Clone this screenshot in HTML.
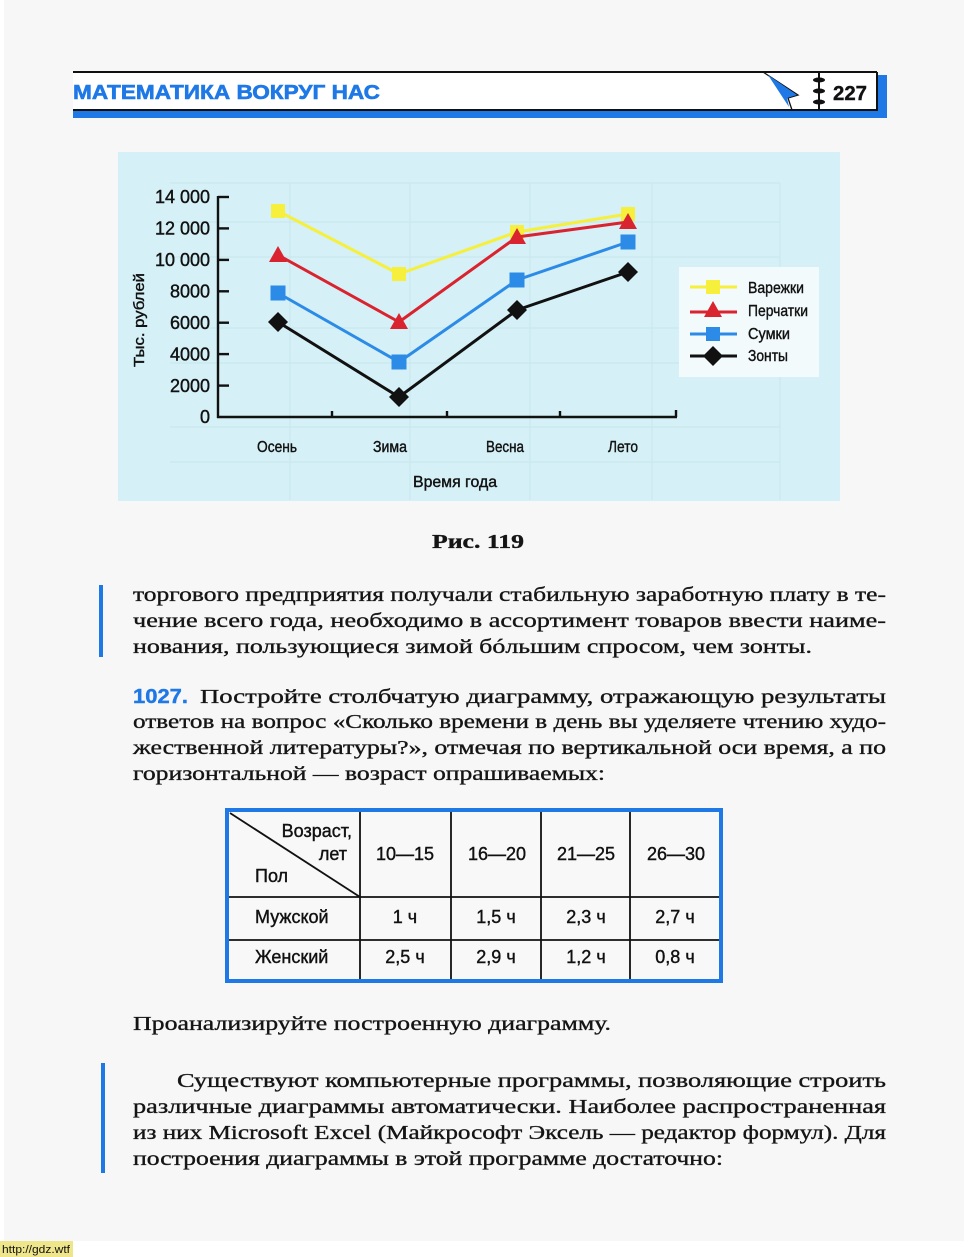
<!DOCTYPE html>
<html><head><meta charset="utf-8">
<style>
html,body{margin:0;padding:0;background:#fff;}
svg{display:block;}
.ser{font-family:"Liberation Serif","Noto Serif CJK SC",serif;fill:#151515;stroke:#151515;stroke-width:0.35px;}
.san{font-family:"Liberation Sans","Noto Sans CJK SC",sans-serif;fill:#111;}
.sanb{stroke:#111;stroke-width:0.4px;}
</style></head>
<body>
<svg width="969" height="1257" viewBox="0 0 969 1257" xmlns="http://www.w3.org/2000/svg">
<!-- page -->
<rect x="0" y="0" width="969" height="1257" fill="#ffffff"/>
<rect x="4" y="0" width="960" height="1241" fill="#f7f7f7"/>

<!-- header -->
<rect x="877" y="75" width="10" height="43" fill="#1e78e6"/>
<rect x="73" y="111" width="814" height="7" fill="#1e78e6"/>
<rect x="73" y="72" width="804" height="38" fill="#ffffff"/>
<line x1="73" y1="72" x2="877" y2="72" stroke="#111" stroke-width="2"/>
<line x1="73" y1="110" x2="877" y2="110" stroke="#111" stroke-width="2"/>
<line x1="877" y1="72" x2="877" y2="111" stroke="#111" stroke-width="2"/>
<line x1="819" y1="72" x2="819" y2="110" stroke="#111" stroke-width="2"/>
<g fill="#111">
<ellipse cx="819" cy="80" rx="6" ry="2.5"/>
<ellipse cx="819" cy="91" rx="6" ry="2.5"/>
<ellipse cx="819" cy="102" rx="6" ry="2.5"/>
</g>
<path d="M763,72 L798,95 L788,98 L792,110" fill="none" stroke="#111" stroke-width="1.3"/>
<path d="M768,75 L797,95 L787,98 L789,107 Z" fill="#1e78e6"/>
<text x="73" y="99" class="san" style="font-size:20px;font-weight:bold;fill:#1e78e6;stroke:#1e78e6;stroke-width:0.6px" textLength="307" lengthAdjust="spacingAndGlyphs">МАТЕМАТИКА  ВОКРУГ  НАС</text>
<text x="833" y="100" class="san sanb" style="font-size:20px;font-weight:bold" textLength="34" lengthAdjust="spacingAndGlyphs">227</text>

<!-- chart background -->
<rect x="118" y="152" width="722" height="349" fill="#d5f0f6"/>
<g stroke="#c6e3eb" stroke-width="1.2" fill="none" opacity="0.6">
<line x1="170" y1="183" x2="780" y2="183"/>
<line x1="170" y1="222" x2="780" y2="222"/>
<line x1="170" y1="257" x2="780" y2="257"/>
<line x1="170" y1="328" x2="780" y2="328"/>
<line x1="170" y1="363" x2="780" y2="363"/>
<line x1="170" y1="427" x2="780" y2="427"/>
<line x1="170" y1="462" x2="780" y2="462"/>
<line x1="290" y1="183" x2="290" y2="500"/>
<line x1="410" y1="183" x2="410" y2="500"/>
<line x1="530" y1="183" x2="530" y2="500"/>
<line x1="652" y1="183" x2="652" y2="500"/>
<line x1="780" y1="183" x2="780" y2="500"/>
</g>

<!-- axes -->
<g stroke="#111" stroke-width="2.4" fill="none">
<line x1="218" y1="196" x2="218" y2="418"/>
<line x1="217" y1="417" x2="677" y2="417"/>
<line x1="218" y1="197" x2="229" y2="197"/>
<line x1="218" y1="228.4" x2="229" y2="228.4"/>
<line x1="218" y1="259.9" x2="229" y2="259.9"/>
<line x1="218" y1="291.3" x2="229" y2="291.3"/>
<line x1="218" y1="322.7" x2="229" y2="322.7"/>
<line x1="218" y1="354.1" x2="229" y2="354.1"/>
<line x1="218" y1="385.6" x2="229" y2="385.6"/>
<line x1="332" y1="417" x2="332" y2="411"/>
<line x1="447" y1="417" x2="447" y2="411"/>
<line x1="560" y1="417" x2="560" y2="411"/>
<line x1="676" y1="417" x2="676" y2="410"/>
</g>
<g class="san sanb" style="font-size:18px" text-anchor="end">
<text x="210" y="203">14 000</text>
<text x="210" y="234.5">12 000</text>
<text x="210" y="266">10 000</text>
<text x="210" y="297.5">8000</text>
<text x="210" y="329">6000</text>
<text x="210" y="360.5">4000</text>
<text x="210" y="392">2000</text>
<text x="210" y="423">0</text>
</g>
<text class="san sanb" style="font-size:15px" transform="translate(144,320) rotate(-90)" text-anchor="middle" textLength="94" lengthAdjust="spacingAndGlyphs">Тыс. рублей</text>
<g class="san sanb" style="font-size:16px">
<text x="257" y="452" textLength="40" lengthAdjust="spacingAndGlyphs">Осень</text>
<text x="373" y="452" textLength="34" lengthAdjust="spacingAndGlyphs">Зима</text>
<text x="486" y="452" textLength="38" lengthAdjust="spacingAndGlyphs">Весна</text>
<text x="608" y="452" textLength="30" lengthAdjust="spacingAndGlyphs">Лето</text>
<text x="413" y="487" textLength="84" lengthAdjust="spacingAndGlyphs">Время  года</text>
</g>

<!-- series -->
<polyline points="278,211 399,274 517,232 628,214" fill="none" stroke="#f6ef3c" stroke-width="3" stroke-linejoin="round"/>
<g fill="#f6ef3c">
<rect x="271" y="204" width="14" height="14"/>
<rect x="392" y="267" width="14" height="14"/>
<rect x="510" y="225" width="14" height="14"/>
<rect x="621" y="207" width="14" height="14"/>
</g>
<polyline points="278,255 399,322 517,237 628,222" fill="none" stroke="#d9232e" stroke-width="3" stroke-linejoin="round"/>
<g fill="#d9232e">
<polygon points="278,246 269,262 287,262"/>
<polygon points="399,313 390,329 408,329"/>
<polygon points="517,228 508,244 526,244"/>
<polygon points="628,213 619,229 637,229"/>
</g>
<polyline points="278,293 399,362 517,280 628,242" fill="none" stroke="#2b8be6" stroke-width="3" stroke-linejoin="round"/>
<g fill="#2b8be6">
<rect x="270.5" y="285.5" width="15" height="15"/>
<rect x="391.5" y="354.5" width="15" height="15"/>
<rect x="509.5" y="272.5" width="15" height="15"/>
<rect x="620.5" y="234.5" width="15" height="15"/>
</g>
<polyline points="278,322 399,397 517,310 628,272" fill="none" stroke="#111" stroke-width="3" stroke-linejoin="round"/>
<g fill="#111">
<polygon points="278,312 288,322 278,332 268,322"/>
<polygon points="399,387 409,397 399,407 389,397"/>
<polygon points="517,300 527,310 517,320 507,310"/>
<polygon points="628,262 638,272 628,282 618,272"/>
</g>

<!-- legend -->
<rect x="679" y="267" width="140" height="110" fill="#f2fafc"/>
<line x1="690" y1="287" x2="737" y2="287" stroke="#f6ef3c" stroke-width="3"/>
<rect x="706" y="280" width="14" height="14" fill="#f6ef3c"/>
<line x1="690" y1="312" x2="737" y2="312" stroke="#d9232e" stroke-width="3"/>
<polygon points="713,301 704,317 722,317" fill="#d9232e"/>
<line x1="690" y1="334" x2="737" y2="334" stroke="#2b8be6" stroke-width="3"/>
<rect x="706" y="327" width="14" height="14" fill="#2b8be6"/>
<line x1="690" y1="356" x2="737" y2="356" stroke="#111" stroke-width="3"/>
<polygon points="713,346 723,356 713,366 703,356" fill="#111"/>
<g class="san sanb" style="font-size:16px">
<text x="748" y="293" textLength="56" lengthAdjust="spacingAndGlyphs">Варежки</text>
<text x="748" y="316" textLength="60" lengthAdjust="spacingAndGlyphs">Перчатки</text>
<text x="748" y="339" textLength="42" lengthAdjust="spacingAndGlyphs">Сумки</text>
<text x="748" y="361" textLength="40" lengthAdjust="spacingAndGlyphs">Зонты</text>
</g>

<!-- caption -->
<text x="432" y="548" class="ser" style="font-size:20px;font-weight:bold" textLength="92" lengthAdjust="spacingAndGlyphs">Рис. 119</text>

<!-- paragraph 1 -->
<rect x="99" y="585" width="4" height="72" fill="#1e78e6"/>
<g class="ser" style="font-size:20.5px">
<text x="133" y="601" textLength="753" lengthAdjust="spacingAndGlyphs">торгового предприятия получали стабильную заработную плату в те-</text>
<text x="133" y="627" textLength="753" lengthAdjust="spacingAndGlyphs">чение всего года, необходимо в ассортимент товаров ввести наиме-</text>
<text x="133" y="653" textLength="679" lengthAdjust="spacingAndGlyphs">нования, пользующиеся зимой бóльшим спросом, чем зонты.</text>
</g>

<!-- 1027 -->
<text x="133" y="703" class="san" style="font-size:20px;font-weight:bold;fill:#1e78e6;stroke:#1e78e6;stroke-width:0.4px" textLength="55" lengthAdjust="spacingAndGlyphs">1027.</text>
<g class="ser" style="font-size:20.5px">
<text x="200" y="703" textLength="686" lengthAdjust="spacingAndGlyphs">Постройте столбчатую диаграмму, отражающую результаты</text>
<text x="133" y="728" textLength="753" lengthAdjust="spacingAndGlyphs">ответов на вопрос «Сколько времени в день вы уделяете чтению худо-</text>
<text x="133" y="754" textLength="753" lengthAdjust="spacingAndGlyphs">жественной литературы?», отмечая по вертикальной оси время, а по</text>
<text x="133" y="780" textLength="472" lengthAdjust="spacingAndGlyphs">горизонтальной — возраст опрашиваемых:</text>
</g>

<!-- table -->
<rect x="227" y="810" width="494" height="171" fill="#f8f8f8" stroke="#1e78e6" stroke-width="4"/>
<g stroke="#111" stroke-width="1.8">
<line x1="229" y1="897" x2="719" y2="897"/>
<line x1="229" y1="940" x2="719" y2="940"/>
<line x1="360" y1="812" x2="360" y2="979"/>
<line x1="451" y1="812" x2="451" y2="979"/>
<line x1="541" y1="812" x2="541" y2="979"/>
<line x1="630" y1="812" x2="630" y2="979"/>
<line x1="230" y1="813" x2="360" y2="897"/>
</g>
<g class="san sanb" style="font-size:18px">
<text x="352" y="837" text-anchor="end">Возраст,</text>
<text x="347" y="860" text-anchor="end">лет</text>
<text x="255" y="882">Пол</text>
<text x="405" y="860" text-anchor="middle">10—15</text>
<text x="497" y="860" text-anchor="middle">16—20</text>
<text x="586" y="860" text-anchor="middle">21—25</text>
<text x="676" y="860" text-anchor="middle">26—30</text>
<text x="255" y="923">Мужской</text>
<text x="405" y="923" text-anchor="middle">1 ч</text>
<text x="496" y="923" text-anchor="middle">1,5 ч</text>
<text x="586" y="923" text-anchor="middle">2,3 ч</text>
<text x="675" y="923" text-anchor="middle">2,7 ч</text>
<text x="255" y="963">Женский</text>
<text x="405" y="963" text-anchor="middle">2,5 ч</text>
<text x="496" y="963" text-anchor="middle">2,9 ч</text>
<text x="586" y="963" text-anchor="middle">1,2 ч</text>
<text x="675" y="963" text-anchor="middle">0,8 ч</text>
</g>

<!-- bottom text -->
<g class="ser" style="font-size:20.5px">
<text x="133" y="1030" textLength="478" lengthAdjust="spacingAndGlyphs">Проанализируйте построенную диаграмму.</text>
</g>
<rect x="101" y="1063" width="4" height="110" fill="#1e78e6"/>
<g class="ser" style="font-size:20.5px">
<text x="177" y="1087" textLength="709" lengthAdjust="spacingAndGlyphs">Существуют компьютерные программы, позволяющие строить</text>
<text x="133" y="1113" textLength="753" lengthAdjust="spacingAndGlyphs">различные диаграммы автоматически. Наиболее распространенная</text>
<text x="133" y="1139" textLength="753" lengthAdjust="spacingAndGlyphs">из них Microsoft Excel (Майкрософт Эксель — редактор формул). Для</text>
<text x="133" y="1165" textLength="590" lengthAdjust="spacingAndGlyphs">построения диаграммы в этой программе достаточно:</text>
</g>

<!-- footer label -->
<rect x="0" y="1241" width="73" height="16" fill="#efe58a"/>
<text x="2" y="1253" class="san" style="font-size:11px" textLength="68" lengthAdjust="spacingAndGlyphs">http://gdz.wtf</text>
</svg>
</body></html>
